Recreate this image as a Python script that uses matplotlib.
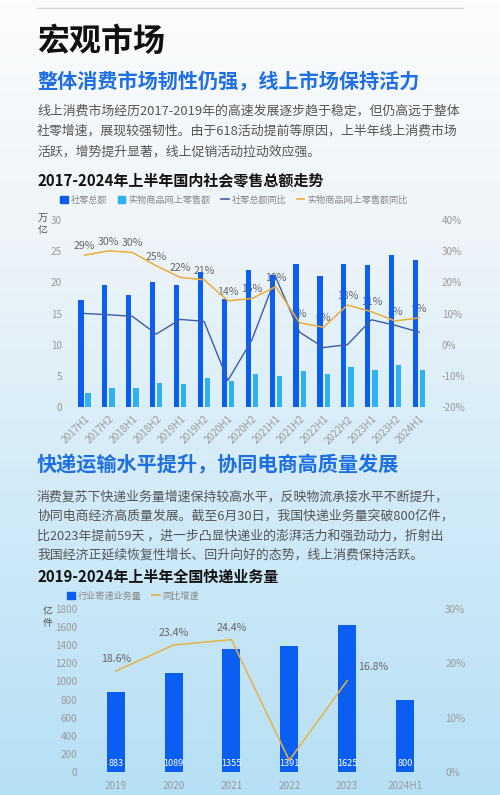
import numpy as np
import matplotlib
matplotlib.use('Agg')
import matplotlib.pyplot as plt
from matplotlib.patches import Patch
from matplotlib.lines import Line2D
from matplotlib.colors import LinearSegmentedColormap

plt.rcParams['font.family'] = ['Noto Sans CJK SC', 'DejaVu Sans']

# chart 1: retail sales, 2017H1 - 2024H1
periods = ['2017H1', '2017H2', '2018H1', '2018H2', '2019H1', '2019H2', '2020H1', '2020H2',
           '2021H1', '2021H2', '2022H1', '2022H2', '2023H1', '2023H2', '2024H1']
retail_total = [17.2, 19.5, 18.0, 20.0, 19.5, 21.7, 17.3, 21.9, 21.2, 22.9, 21.0, 23.0, 22.8, 24.4, 23.6]
online_goods = [2.3, 3.1, 3.1, 3.8, 3.7, 4.6, 4.2, 5.3, 5.0, 5.7, 5.3, 6.4, 6.0, 6.8, 5.9]
retail_yoy = [10.0, 9.6, 9.1, 3.4, 8.1, 7.5, -11.5, 1.5, 21.6, 4.0, -0.9, 0.0, 8.0, 6.2, 4.0]
online_yoy = [28.7, 30.1, 29.6, 25.3, 21.6, 20.8, 14.1, 14.8, 18.6, 7.0, 5.6, 12.7, 10.6, 7.6, 8.6]

# chart 2: express parcels
years = ['2019', '2020', '2021', '2022', '2023', '2024H1']
parcels = [883, 1089, 1355, 1391, 1625, 800]
parcel_yoy = [18.6, 23.4, 24.4, 2.1, 16.8]

W, H = 500, 795
BLUE = '#0a5ff2'
SKY = '#2eb2f2'
NAVY = '#3d5ca8'
ORANGE = '#eeab3a'
TICK = '#9a9a9a'
TS = 7.2  # tick font size


def fx(x):
    return x / W


def fy(y):
    return 1 - y / H


fig = plt.figure(figsize=(W / 100, H / 100), dpi=100)

# background gradient
bg = fig.add_axes([0, 0, 1, 1], zorder=-10)
cmap = LinearSegmentedColormap.from_list('bg', [(0, '#fbfcfd'), (0.3, '#eef4f8'),
                                                (0.55, '#d8edf8'), (1, '#b6e0f5')])
bg.imshow(np.linspace(0, 1, 256).reshape(-1, 1), aspect='auto', cmap=cmap, extent=[0, 1, 0, 1])
bg.plot([37 / W, 463 / W], [fy(8), fy(8)], color='#d4d6d8', lw=1)
bg.set_xlim(0, 1)
bg.set_ylim(0, 1)
bg.axis('off')

# headings and text
fig.text(fx(37), fy(42), '宏观市场', fontsize=23, fontweight='heavy', color='#111111', va='center')
fig.text(fx(37), fy(82), '整体消费市场韧性仍强，线上市场保持活力', fontsize=14.5,
         fontweight='bold', color='#1d6fe3', va='center')
para1 = ['线上消费市场经历2017-2019年的高速发展逐步趋于稳定，但仍高远于整体',
         '社零增速，展现较强韧性。由于618活动提前等原因，上半年线上消费市场',
         '活跃，增势提升显著，线上促销活动拉动效应强。']
for i, line in enumerate(para1):
    fig.text(fx(37), fy(111 + i * 20.5), line, fontsize=9.3, color='#555555', va='center')
fig.text(fx(37), fy(180), '2017-2024年上半年国内社会零售总额走势', fontsize=10.8,
         fontweight='bold', color='#111111', va='center')

fig.text(fx(37), fy(465), '快递运输水平提升，协同电商高质量发展', fontsize=14.5,
         fontweight='bold', color='#1d6fe3', va='center')
para2 = ['消费复苏下快递业务量增速保持较高水平，反映物流承接水平不断提升，',
         '协同电商经济高质量发展。截至6月30日，我国快递业务量突破800亿件，',
         '比2023年提前59天 ，进一步凸显快递业的澎湃活力和强劲动力，折射出',
         '我国经济正延续恢复性增长、回升向好的态势，线上消费保持活跃。']
for i, line in enumerate(para2):
    fig.text(fx(37), fy(497 + i * 19.5), line, fontsize=9.3, color='#555555', va='center')
fig.text(fx(37), fy(577), '2019-2024年上半年全国快递业务量', fontsize=10.8,
         fontweight='bold', color='#111111', va='center')

# ---- chart 1 ----
ax1 = fig.add_axes([fx(70.2), fy(407), fx(433.5) - fx(70.2), 187 / H])
ax1.patch.set_visible(False)
x = np.arange(len(periods))
ax1.bar(x - 0.15, retail_total, width=0.22, color=BLUE, zorder=3)
ax1.bar(x + 0.15, online_goods, width=0.22, color=SKY, zorder=3)
ax1.set_xlim(-0.6, len(periods) - 0.4)
ax1.set_ylim(0, 30)
ax1.set_yticks(range(0, 31, 5))
ax1.set_xticks(x)
ax1.set_xticklabels(periods, rotation=45, ha='right', rotation_mode='anchor')
ax1.tick_params(length=0, labelsize=TS, colors=TICK)
ax1.tick_params(axis='y', pad=6)
ax1.tick_params(axis='x', pad=5)
for s in ax1.spines.values():
    s.set_visible(False)

ax1r = ax1.twinx()
ax1r.plot(x, retail_yoy, color=NAVY, lw=1.0, zorder=4)
ax1r.plot(x, online_yoy, color=ORANGE, lw=1.1, zorder=4)
ax1r.set_ylim(-20, 40)
ax1r.set_yticks(range(-20, 41, 10))
ax1r.set_yticklabels([f'{v}%' for v in range(-20, 41, 10)])
ax1r.tick_params(length=0, labelsize=TS, colors=TICK, pad=6)
for s in ax1r.spines.values():
    s.set_visible(False)
# labels sit behind the bars, like the original
for i, v in enumerate(online_yoy):
    ax1.annotate(f'{v:.0f}%', xy=(i, v), xycoords=ax1r.transData, xytext=(0, 3),
                 textcoords='offset points', ha='center', va='bottom',
                 fontsize=7.6, color='#666666', zorder=2)

fig.text(fx(38), fy(218), '万', fontsize=7.2, color='#555555', va='center')
fig.text(fx(38), fy(230), '亿', fontsize=7.2, color='#555555', va='center')

handles1 = [Patch(color=BLUE), Patch(color=SKY),
            Line2D([], [], color=NAVY, lw=1.2), Line2D([], [], color=ORANGE, lw=1.2)]
fig.legend(handles1, ['社零总额', '实物商品网上零售额', '社零总额同比', '实物商品网上零售额同比'],
           loc='center', bbox_to_anchor=(fx(234), fy(200)), ncol=4, frameon=False,
           fontsize=6.6, labelcolor='#888888', handlelength=0.8, handleheight=0.8,
           handletextpad=0.3, columnspacing=1.2)

# ---- chart 2 ----
ax2 = fig.add_axes([fx(83.9), fy(771.7), fx(436.8) - fx(83.9), 162.4 / H])
ax2.patch.set_visible(False)
x2 = np.arange(len(years))
ax2.bar(x2, parcels, width=0.31, color=BLUE, zorder=3)
for i, v in enumerate(parcels):
    ax2.annotate(str(v), xy=(i, 0), xytext=(0, 3), textcoords='offset points',
                 ha='center', va='bottom', fontsize=6.6, color='white', zorder=5)
ax2.set_xlim(-0.55, len(years) - 0.45)
ax2.set_ylim(0, 1800)
ax2.set_yticks(range(0, 1801, 200))
ax2.set_xticks(x2)
ax2.set_xticklabels(years)
ax2.tick_params(length=0, labelsize=TS, colors=TICK)
ax2.tick_params(axis='y', pad=5)
ax2.tick_params(axis='x', pad=7)
for s in ax2.spines.values():
    s.set_visible(False)

ax2r = ax2.twinx()
ax2r.plot(x2[:len(parcel_yoy)], parcel_yoy, color='#e8b245', lw=1.1, zorder=4)
ax2r.set_ylim(0, 30)
ax2r.set_yticks(range(0, 31, 10))
ax2r.set_yticklabels([f'{v}%' for v in range(0, 31, 10)])
ax2r.tick_params(length=0, labelsize=TS, colors=TICK, pad=6)
for s in ax2r.spines.values():
    s.set_visible(False)
for i, v in enumerate(parcel_yoy):
    if i == 3:
        continue  # 2022 label is hidden behind its bar in the original
    last = i == len(parcel_yoy) - 1
    ax2.annotate(f'{v:.1f}%', xy=(i, v), xycoords=ax2r.transData,
                 xytext=(8, 6) if last else (0, 5), textcoords='offset points',
                 ha='left' if last else 'center', va='bottom',
                 fontsize=7.6, color='#666666', zorder=2)

fig.text(fx(43), fy(611), '亿', fontsize=7.2, color='#555555', va='center')
fig.text(fx(43), fy(623), '件', fontsize=7.2, color='#555555', va='center')

handles2 = [Patch(color=BLUE), Line2D([], [], color='#e8b245', lw=1.2)]
fig.legend(handles2, ['行业寄递业务量', '同比增速'], loc='center',
           bbox_to_anchor=(fx(133), fy(596)), ncol=2, frameon=False,
           fontsize=6.6, labelcolor='#888888', handlelength=0.8, handleheight=0.8,
           handletextpad=0.3, columnspacing=1.2)

fig.savefig('out.png', dpi=100)
